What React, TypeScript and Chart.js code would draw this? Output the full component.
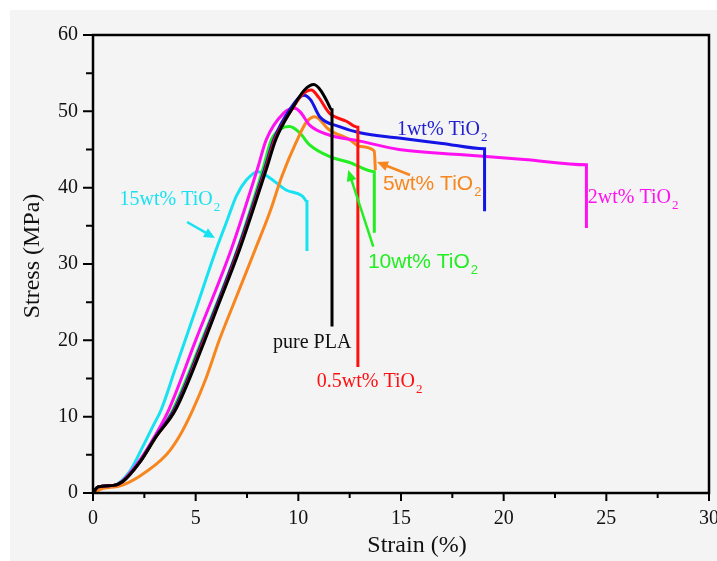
import { useEffect, useRef } from 'react';
import { Chart, registerables } from 'chart.js';

Chart.register(...registerables);

// ---- Data (strain %, stress MPa) ----
const purePLAStrain = [0, 0.25, 1.0, 1.45, 2.27, 3.08, 4.02, 5.43, 6.0, 7.14, 8.44, 8.9, 9.73, 10.3, 10.76, 11.1, 11.4, 11.64, 11.64];
const purePLAStress = [0, 0.8, 1.0, 1.5, 4.0, 7.4, 10.9, 19.9, 23.9, 31.9, 42.4, 46.3, 50.5, 52.8, 53.5, 52.7, 51.3, 50.2, 21.8];

const wt05Strain = [0, 0.25, 1.0, 1.45, 2.27, 3.08, 4.0, 5.4, 7.1, 8.4, 8.85, 9.7, 10.2, 10.63, 11.0, 11.5, 12.34, 12.9, 12.9];
const wt05Stress = [0, 0.8, 1.0, 1.5, 4.0, 7.4, 10.9, 20.0, 31.9, 42.4, 46.3, 50.3, 52.2, 52.8, 51.8, 49.8, 48.7, 47.9, 16.5];

const wt1Strain = [0, 0.25, 1.0, 1.45, 2.27, 3.05, 3.95, 5.35, 7.05, 8.35, 8.8, 9.6, 10.26, 10.6, 11.04, 12.0, 13.0, 14.9, 17.0, 19.07, 19.07];
const wt1Stress = [0, 0.8, 1.0, 1.5, 4.0, 7.4, 10.9, 20.0, 31.9, 42.4, 46.3, 50.3, 52.1, 51.5, 49.3, 48.0, 47.2, 46.5, 45.8, 45.1, 36.9];

const wt2Strain = [0, 0.25, 1.0, 1.4, 2.2, 3.0, 3.69, 5.0, 6.73, 8.0, 8.44, 9.3, 9.82, 10.1, 10.55, 11.5, 13.0, 14.9, 18.0, 21.0, 24.03, 24.03];
const wt2Stress = [0, 0.8, 1.0, 1.5, 4.0, 7.4, 10.9, 20.0, 31.9, 42.4, 46.3, 49.8, 50.4, 49.9, 48.2, 46.9, 46.1, 45.0, 44.3, 43.7, 43.0, 34.7];

const wt5Strain = [0, 0.5, 1.29, 2.27, 3.57, 4.2, 4.86, 5.5, 6.16, 7.0, 7.9, 8.6, 9.2, 9.9, 10.4, 10.8, 11.5, 12.5, 13.0, 13.7, 13.75];
const wt5Stress = [0, 0.6, 0.9, 2.2, 5.0, 7.4, 10.9, 15.0, 20.1, 25.8, 31.9, 36.7, 41.5, 46.0, 48.6, 49.3, 47.6, 46.3, 45.4, 44.8, 42.3];

const wt10Strain = [0, 0.25, 1.0, 1.45, 2.27, 3.08, 3.89, 5.3, 7.03, 8.27, 8.69, 9.2, 9.57, 10.06, 10.55, 11.5, 12.5, 13.7, 13.7];
const wt10Stress = [0, 0.8, 1.0, 1.5, 4.0, 7.4, 10.9, 20.0, 31.9, 42.4, 46.3, 47.8, 48.0, 47.2, 45.6, 44.1, 43.3, 42.1, 34.1];

const wt15Strain = [0, 0.25, 1.0, 1.78, 2.43, 2.91, 3.32, 4.0, 5.0, 6.0, 6.49, 6.98, 7.47, 8.03, 8.6, 9.4, 10.2, 10.42, 10.42];
const wt15Stress = [0, 0.8, 1.0, 2.8, 6.1, 8.7, 10.9, 16.2, 24.0, 31.9, 35.4, 38.9, 41.0, 42.1, 41.3, 39.7, 38.9, 38.2, 31.7];

const xTickValues = [0, 5, 10, 15, 20, 25, 30];
const yTickValues = [0, 10, 20, 30, 40, 50, 60];

const seriesNames = ['pure PLA', '0.5wt% TiO2', '1wt% TiO2', '2wt% TiO2', '5wt% TiO2', '10wt% TiO2', '15wt% TiO2'];
const seriesStrain = [purePLAStrain, wt05Strain, wt1Strain, wt2Strain, wt5Strain, wt10Strain, wt15Strain];
const seriesStress = [purePLAStress, wt05Stress, wt1Stress, wt2Stress, wt5Stress, wt10Stress, wt15Stress];
const seriesColors = ['#000000', '#ff1010', '#1414e6', '#ff10f0', '#f7861e', '#22ee22', '#18e2f2'];

const SERIF = "'Liberation Serif', 'Times New Roman', serif";
const SANS = "'Liberation Sans', Arial, sans-serif";

// Curve labels (data-space anchor = left end of text baseline)
const labelTexts = ['pure PLA', '0.5wt% TiO', '1wt% TiO', '2wt% TiO', '5wt% TiO', '10wt% TiO', '15wt% TiO'];
const labelSubs = ['', '2', '2', '2', '2', '2', '2'];
const labelX = [8.77, 10.9, 14.8, 24.1, 14.12, 13.39, 1.29];
const labelY = [19.0, 13.9, 46.9, 38.0, 39.7, 29.5, 37.7];
const labelFonts = [SERIF, SERIF, SERIF, SERIF, SANS, SANS, SERIF];
const labelColors = ['#111111', '#ff1010', '#2020d0', '#ff10f0', '#f7861e', '#22ee22', '#18e2f2'];

// Arrows: from (x0,y0) to (x1,y1) in data units, head at end
const arrowFromX = [4.58, 15.44, 13.65];
const arrowFromY = [35.5, 41.66, 32.27];
const arrowToX = [5.94, 13.83, 12.43];
const arrowToY = [33.4, 43.36, 42.3];
const arrowColors = ['#18e2f2', '#f7861e', '#22ee22'];

const decorPlugin = {
  id: 'decor',
  beforeDraw(chart: any) {
    const { ctx, width, height } = chart;
    ctx.save();
    ctx.fillStyle = '#ffffff';
    ctx.fillRect(0, 0, width, height);
    ctx.fillStyle = '#f4f4f4';
    ctx.fillRect(10, 10, width - 10, height - 10);
    ctx.restore();
  },
  afterDraw(chart: any) {
    const { ctx, chartArea: a } = chart;
    const xs = chart.scales.x;
    const ys = chart.scales.y;
    ctx.save();
    // frame
    ctx.strokeStyle = '#000';
    ctx.lineWidth = 2.5;
    ctx.strokeRect(a.left, a.top, a.right - a.left, a.bottom - a.top);
    // ticks (major + minor)
    ctx.lineWidth = 2;
    ctx.beginPath();
    for (let v = 0; v <= 30.001; v += 2.5) {
      const px = xs.getPixelForValue(v);
      const major = Math.abs(v % 5) < 1e-6;
      ctx.moveTo(px, a.bottom);
      ctx.lineTo(px, a.bottom + (major ? 8 : 5));
    }
    for (let v = 0; v <= 60.001; v += 5) {
      const py = ys.getPixelForValue(v);
      const major = Math.abs(v % 10) < 1e-6;
      ctx.moveTo(a.left, py);
      ctx.lineTo(a.left - (major ? 10 : 7), py);
    }
    ctx.stroke();

    // curve labels
    ctx.textBaseline = 'alphabetic';
    ctx.textAlign = 'left';
    for (let i = 0; i < labelTexts.length; i++) {
      const px = xs.getPixelForValue(labelX[i]);
      const py = ys.getPixelForValue(labelY[i]);
      const fam = labelFonts[i];
      const size = fam === SANS ? 21 : 20;
      ctx.fillStyle = labelColors[i];
      ctx.font = `${size}px ${fam}`;
      ctx.fillText(labelTexts[i], px, py);
      if (labelSubs[i]) {
        const w = ctx.measureText(labelTexts[i]).width;
        ctx.font = `13px ${fam}`;
        ctx.fillText(labelSubs[i], px + w + 1, py + 6);
      }
    }

    // arrows
    for (let i = 0; i < arrowFromX.length; i++) {
      const x0 = xs.getPixelForValue(arrowFromX[i]);
      const y0 = ys.getPixelForValue(arrowFromY[i]);
      const x1 = xs.getPixelForValue(arrowToX[i]);
      const y1 = ys.getPixelForValue(arrowToY[i]);
      const ang = Math.atan2(y1 - y0, x1 - x0);
      const hl = 11, hw = 5;
      ctx.strokeStyle = arrowColors[i];
      ctx.fillStyle = arrowColors[i];
      ctx.lineWidth = 2.5;
      ctx.beginPath();
      ctx.moveTo(x0, y0);
      ctx.lineTo(x1 - Math.cos(ang) * hl * 0.8, y1 - Math.sin(ang) * hl * 0.8);
      ctx.stroke();
      ctx.beginPath();
      ctx.moveTo(x1, y1);
      ctx.lineTo(x1 - Math.cos(ang) * hl - Math.sin(ang) * hw, y1 - Math.sin(ang) * hl + Math.cos(ang) * hw);
      ctx.lineTo(x1 - Math.cos(ang) * hl + Math.sin(ang) * hw, y1 - Math.sin(ang) * hl - Math.cos(ang) * hw);
      ctx.closePath();
      ctx.fill();
    }

    // axis titles
    ctx.fillStyle = '#111';
    ctx.font = `24px ${SERIF}`;
    ctx.textAlign = 'center';
    ctx.textBaseline = 'middle';
    ctx.fillText('Strain (%)', 417, 546);
    ctx.translate(33, 256);
    ctx.rotate(-Math.PI / 2);
    ctx.fillText('Stress (MPa)', 0, 0);
    ctx.restore();
  },
};

export default function App() {
  const ref = useRef<HTMLCanvasElement | null>(null);
  useEffect(() => {
    document.body.style.margin = '0';
    const canvas = ref.current;
    if (!canvas) return;
    const datasets = seriesNames.map((name, i) => ({
      label: name,
      data: seriesStrain[i].map((s, j) => ({ x: s, y: seriesStress[i][j] })),
      borderColor: seriesColors[i],
      backgroundColor: seriesColors[i],
      borderWidth: 3,
      pointRadius: 0,
      showLine: true,
      cubicInterpolationMode: 'monotone' as const,
      fill: false,
    }));
    const chart = new Chart(canvas, {
      type: 'scatter',
      data: { datasets },
      options: {
        animation: false,
        responsive: false,
        devicePixelRatio: 1,
        layout: { autoPadding: false, padding: { left: 0, top: 35, right: 8, bottom: 0 } },
        plugins: { legend: { display: false }, tooltip: { enabled: false } },
        scales: {
          x: {
            type: 'linear',
            min: 0,
            max: 30,
            afterFit: (s: any) => { s.height = 68; s.paddingLeft = 0; s.paddingRight = 0; },
            afterBuildTicks: (s: any) => { s.ticks = xTickValues.map((v) => ({ value: v })); },
            grid: { display: false, drawTicks: false, tickLength: 0 },
            border: { display: false },
            ticks: { color: '#111', padding: 14, maxRotation: 0, autoSkip: false, font: { family: SERIF, size: 20 } },
          },
          y: {
            type: 'linear',
            min: 0,
            max: 60,
            afterFit: (s: any) => { s.width = 93; s.paddingTop = 0; s.paddingBottom = 0; },
            afterBuildTicks: (s: any) => { s.ticks = yTickValues.map((v) => ({ value: v })); },
            grid: { display: false, drawTicks: false, tickLength: 0 },
            border: { display: false },
            ticks: { color: '#111', padding: 15, autoSkip: false, font: { family: SERIF, size: 20 } },
          },
        },
      },
      plugins: [decorPlugin],
    });
    return () => chart.destroy();
  }, []);
  return (
    <div style={{ position: 'absolute', left: 0, top: 0, width: 717, height: 561 }}>
      <canvas ref={ref} width={717} height={561} />
    </div>
  );
}
